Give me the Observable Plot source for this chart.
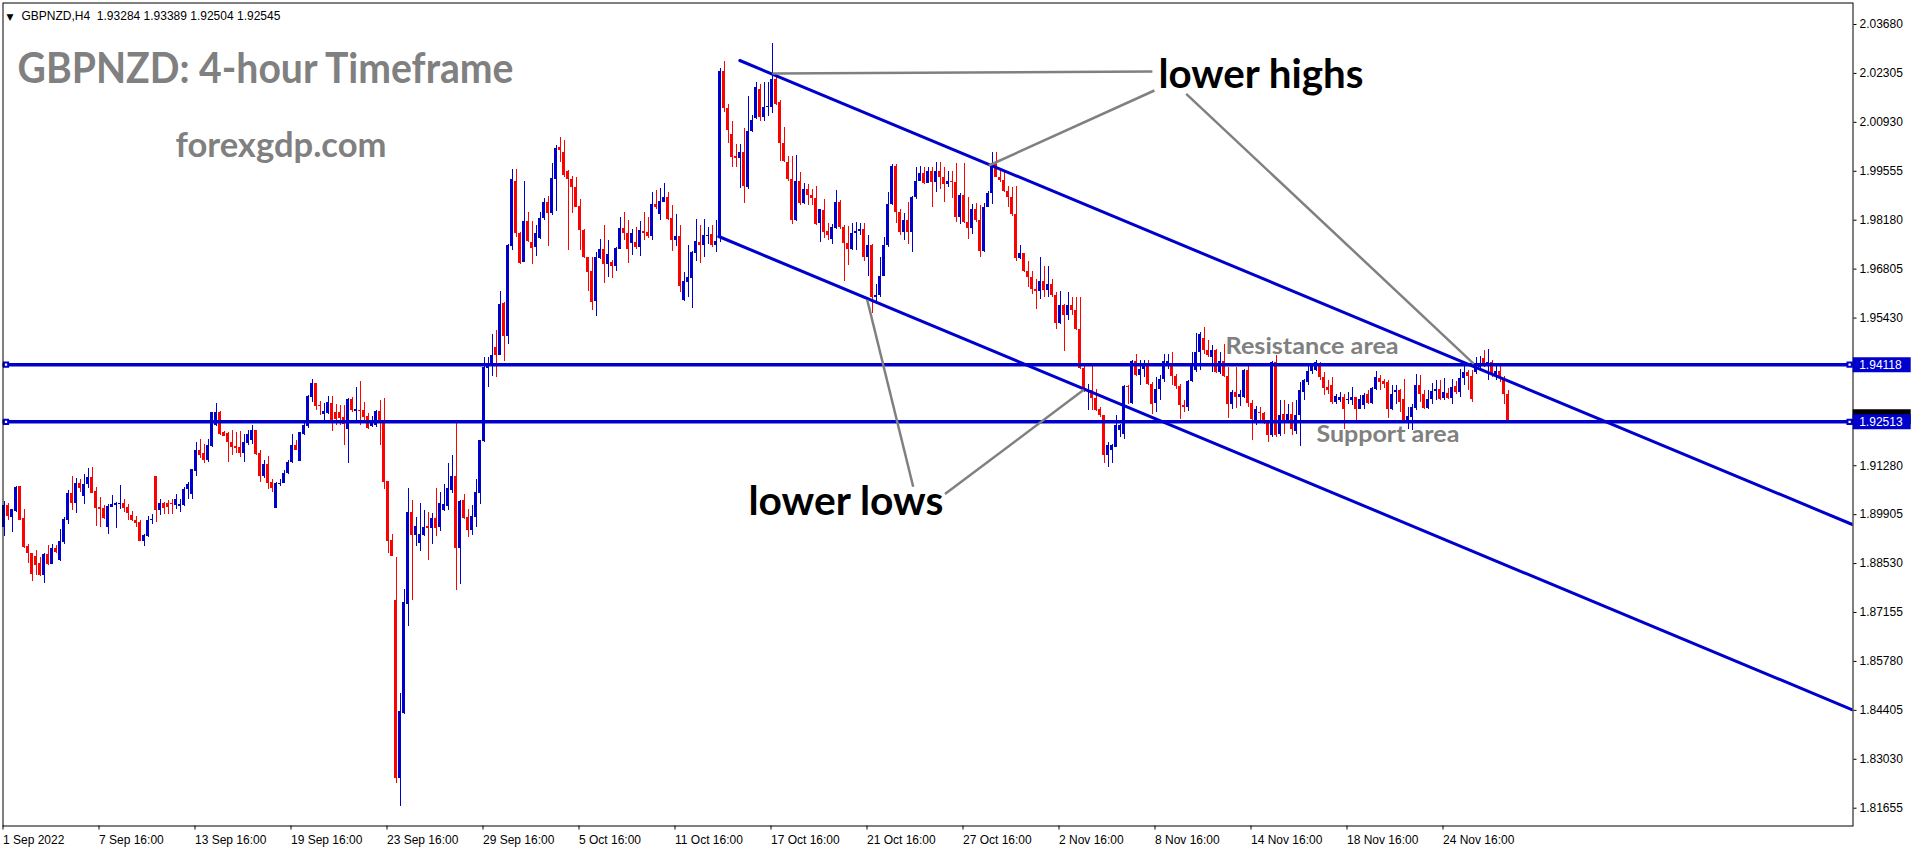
<!DOCTYPE html>
<html><head><meta charset="utf-8">
<script src="https://cdn.jsdelivr.net/npm/d3@7"></script>
<script src="https://cdn.jsdelivr.net/npm/@observablehq/plot@0.6"></script>
<style>
html,body{margin:0;padding:0;background:#fff;}
#chart{width:1916px;height:850px;overflow:hidden;}
svg{display:block;}
</style></head><body><div id="chart"></div>
<script>
// ---------- data: GBPNZD H4, bar 0 = 1 Sep 2022 16:00 ----------
const opens = [
1.8955,1.9016,1.8983,1.8999,1.9069,1.8980,1.8900,1.8880,1.8872,1.8853,
1.8820,1.8879,1.8851,1.8896,1.8861,1.8911,1.8974,1.9049,1.9021,1.9077,
1.9041,1.9076,1.9094,1.9055,1.9010,1.9008,1.8955,1.9011,1.9016,1.9020,
1.9021,1.9010,1.8988,1.8973,1.8969,1.8916,1.8929,1.8973,1.9097,1.9003,
1.9021,1.9023,1.9021,1.9016,1.9014,1.9016,1.9061,1.9047,1.9112,1.9170,
1.9163,1.9142,1.9182,1.9242,1.9277,1.9222,1.9219,1.9194,1.9182,1.9179,
1.9163,1.9191,1.9198,1.9226,1.9163,1.9098,1.9131,1.9081,1.9008,1.9075,
1.9078,1.9105,1.9137,1.9184,1.9140,1.9217,1.9238,1.9320,1.9359,1.9297,
1.9273,1.9276,1.9303,1.9277,1.9277,1.9263,1.9229,1.9315,1.9280,1.9282,
1.9282,1.9266,1.9238,1.9242,1.9280,1.9256,1.9083,1.8917,
1.8749,1.8250,1.8432,1.8738,1.8996,1.8931,1.8910,1.8931,1.8957,1.8952,
1.8979,1.8954,1.9001,1.9013,1.9058,1.9097,1.8896,1.9030,1.8982,1.8945,
1.8982,1.9049,
1.9196,1.9401,1.9408,1.9460,1.9439,1.9584,1.9491,1.9744,1.9926,1.9781,
1.9699,1.9813,1.9755,1.9740,1.9767,1.9822,1.9869,1.9836,1.9931,2.0021,
2.0008,1.9956,1.9933,1.9911,1.9857,1.9790,1.9713,1.9675,1.9589,1.9710,
1.9736,1.9694,1.9700,1.9689,1.9736,1.9794,1.9782,1.9753,1.9755,1.9741,
1.9785,1.9783,1.9772,1.9861,1.9834,1.9869,1.9881,1.9823,1.9761,1.9773,
1.9591,1.9642,1.9654,1.9724,1.9756,1.9747,1.9774,1.9778,1.9748,
1.9767,2.0235,2.0131,2.0059,1.9998,1.9991,2.0009,1.9911,2.0066,2.0104,
2.0185,2.0108,2.0136,2.0136,2.0214,2.0150,2.0034,1.9981,1.9933,1.9818,
1.9928,1.9864,1.9905,1.9888,1.9880,1.9808,1.9844,1.9785,1.9764,1.9795,
1.9869,1.9797,1.9752,1.9736,1.9780,1.9786,1.9791,1.9713,1.9747,1.9600,
1.9607,1.9661,1.9746,1.9862,1.9970,1.9839,1.9783,1.9816,1.9783,1.9881,
1.9928,1.9949,1.9921,1.9956,1.9923,1.9956,1.9939,1.9917,1.9926,1.9924,
1.9825,1.9888,1.9811,1.9795,1.9848,1.9816,1.9730,1.9855,1.9892,1.9975,
1.9939,1.9930,1.9900,1.9881,1.9834,1.9710,1.9724,1.9673,1.9657,1.9624,
1.9619,1.9647,1.9621,1.9636,1.9605,1.9527,1.9577,1.9549,1.9577,1.9563,
1.9512,1.9401,
1.9338,1.9340,1.9318,1.9286,1.9268,1.9156,1.9172,1.9180,1.9226,1.9217,
1.9352,1.9303,1.9420,1.9381,1.9399,1.9413,1.9357,1.9303,1.9343,1.9371,
1.9414,1.9413,1.9378,1.9350,1.9296,1.9293,1.9364,1.9395,1.9446,1.9486,
1.9451,1.9432,1.9451,1.9390,1.9420,1.9378,1.9299,1.9334,1.9320,1.9320,
1.9395,1.9303,1.9254,1.9277,1.9274,1.9247,1.9212,1.9418,1.9215,1.9273,
1.9255,1.9272,1.9224,1.9268,1.9334,1.9362,1.9392,1.9396,1.9409,1.9376,
1.9348,1.9353,1.9306,1.9311,1.9320,1.9310,1.9312,1.9320,1.9287,1.9297,
1.9327,1.9303,1.9343,1.9373,1.9364,1.9362,1.9287,1.9334,1.9339,1.9315,
1.9252,1.9264,1.9289,1.9354,1.9327,1.9290,1.9313,1.9337,1.9343,1.9318,
1.9332,1.9318,1.9350,1.9334,1.9374,1.9390,1.9380,1.9390,1.9404,1.9428,
1.9411,1.9418,1.9381,1.9393,1.9371,1.93284
];
const highs = [
1.9028,1.9022,1.9005,1.9071,1.9071,1.9004,1.8908,1.8882,1.8889,1.8871,
1.8882,1.8903,1.8906,1.8903,1.8950,1.8983,1.9058,1.9097,1.9091,1.9089,
1.9103,1.9120,1.9123,1.9067,1.9039,1.9016,1.9018,1.9044,1.9025,1.9072,
1.9032,1.9020,1.8999,1.8986,1.8975,1.8936,1.8986,1.8992,1.9098,1.9032,
1.9025,1.9030,1.9034,1.9048,1.9034,1.9067,1.9081,1.9118,1.9193,1.9203,
1.9187,1.9203,1.9278,1.9303,1.9279,1.9223,1.9222,1.9226,1.9222,1.9224,
1.9217,1.9226,1.9240,1.9227,1.9170,1.9142,1.9153,1.9088,1.9081,1.9089,
1.9114,1.9144,1.9217,1.9198,1.9222,1.9250,1.9325,1.9371,1.9360,1.9309,
1.9304,1.9322,1.9322,1.9299,1.9298,1.9296,1.9318,1.9320,1.9348,1.9366,
1.9305,1.9276,1.9266,1.9282,1.9310,1.9318,1.9084,1.8936,
1.8871,1.8489,1.8780,1.9065,1.9030,1.8983,1.9022,1.9001,1.8997,1.8994,
1.9065,1.9052,1.9075,1.9134,1.9156,1.9247,1.9030,1.9048,1.9004,1.9016,
1.9089,1.9198,
1.9432,1.9432,1.9497,1.9509,1.9619,1.9588,1.9750,1.9961,1.9961,1.9783,
1.9926,1.9839,1.9813,1.9804,1.9839,1.9878,1.9886,1.9978,2.0028,2.0050,
2.0042,1.9959,1.9942,1.9939,1.9875,1.9792,1.9714,1.9713,1.9727,1.9764,
1.9802,1.9761,1.9705,1.9741,1.9825,1.9841,1.9816,1.9792,1.9797,1.9813,
1.9841,1.9825,1.9897,1.9902,1.9907,1.9921,1.9895,1.9858,1.9834,1.9802,
1.9671,1.9748,1.9731,1.9820,1.9804,1.9820,1.9797,1.9802,1.9816,
2.0243,2.0265,2.0143,2.0096,2.0031,2.0031,2.0075,2.0167,2.0113,2.0206,
2.0199,2.0204,2.0204,2.0315,2.0218,2.0153,2.0078,1.9998,1.9998,2.0000,
1.9951,1.9921,1.9917,1.9905,1.9914,1.9847,1.9877,1.9808,1.9806,1.9902,
1.9874,1.9802,1.9799,1.9808,1.9811,1.9808,1.9808,1.9776,1.9750,1.9636,
1.9713,1.9769,1.9895,1.9975,1.9975,1.9848,1.9836,1.9867,1.9886,1.9966,
1.9970,1.9966,1.9967,1.9967,1.9980,1.9981,1.9966,1.9956,1.9956,1.9977,
1.9892,1.9977,1.9881,1.9862,1.9864,1.9858,1.9864,1.9900,2.0008,2.0008,
1.9963,1.9956,1.9914,1.9911,1.9914,1.9746,1.9724,1.9703,1.9675,1.9652,
1.9713,1.9689,1.9689,1.9652,1.9614,1.9619,1.9582,1.9614,1.9602,1.9602,
1.9600,1.9413,
1.9357,1.9409,1.9343,1.9292,1.9270,1.9194,1.9189,1.9268,1.9245,1.9353,
1.9353,1.9423,1.9441,1.9423,1.9423,1.9423,1.9362,1.9376,1.9381,1.9441,
1.9441,1.9446,1.9385,1.9357,1.9310,1.9367,1.9446,1.9499,1.9502,1.9516,
1.9479,1.9465,1.9456,1.9446,1.9470,1.9404,1.9339,1.9404,1.9339,1.9399,
1.9409,1.9310,1.9294,1.9292,1.9278,1.9250,1.9420,1.9437,1.9310,1.9310,
1.9301,1.9306,1.9310,1.9362,1.9371,1.9409,1.9413,1.9423,1.9418,1.9390,
1.9367,1.9376,1.9329,1.9334,1.9329,1.9334,1.9348,1.9320,1.9324,1.9331,
1.9340,1.9348,1.9393,1.9381,1.9371,1.9367,1.9353,1.9353,1.9343,1.9369,
1.9292,1.9301,1.9383,1.9381,1.9338,1.9340,1.9359,1.9367,1.9367,1.9374,
1.9346,1.9369,1.9365,1.9399,1.9413,1.9395,1.9395,1.9432,1.9434,1.9451,
1.9456,1.9423,1.9413,1.9409,1.9378,1.93389
];
const lows = [
1.8930,1.8974,1.8941,1.8997,1.8974,1.8896,1.8852,1.8802,1.8819,1.8816,
1.8798,1.8847,1.8850,1.8880,1.8860,1.8908,1.8962,1.9002,1.8993,1.9053,
1.9020,1.9064,1.9050,1.8957,1.8955,1.8978,1.8934,1.9010,1.8952,1.9006,
1.8997,1.8974,1.8971,1.8955,1.8915,1.8901,1.8927,1.8964,1.8969,1.8989,
1.8990,1.8990,1.8992,1.9006,1.8997,1.9014,1.9034,1.9032,1.9097,1.9147,
1.9135,1.9137,1.9179,1.9238,1.9214,1.9209,1.9137,1.9156,1.9161,1.9151,
1.9137,1.9184,1.9189,1.9156,1.9081,1.9091,1.9062,1.9053,1.9007,1.9069,
1.9078,1.9102,1.9133,1.9170,1.9140,1.9212,1.9233,1.9306,1.9284,1.9270,
1.9254,1.9273,1.9223,1.9241,1.9240,1.9184,1.9135,1.9278,1.9254,1.9240,
1.9250,1.9231,1.9236,1.9236,1.9184,1.9062,1.8882,1.8872,
1.8236,1.8169,1.8428,1.8676,1.8749,1.8900,1.8887,1.8928,1.8861,1.8906,
1.8928,1.8942,1.9000,1.9001,1.9050,1.8777,1.8794,1.8978,1.8926,1.8931,
1.8955,1.9018,
1.9193,1.9348,1.9378,1.9376,1.9437,1.9421,1.9469,1.9734,1.9769,1.9694,
1.9698,1.9755,1.9694,1.9717,1.9764,1.9816,1.9744,1.9830,1.9842,1.9979,
1.9939,1.9734,1.9836,1.9853,1.9733,1.9711,1.9617,1.9563,1.9547,1.9708,
1.9640,1.9657,1.9655,1.9673,1.9736,1.9760,1.9696,1.9720,1.9736,1.9716,
1.9760,1.9767,1.9762,1.9848,1.9818,1.9867,1.9816,1.9731,1.9743,1.9614,
1.9590,1.9602,1.9569,1.9703,1.9696,1.9713,1.9750,1.9741,1.9727,
1.9755,2.0120,2.0034,1.9967,1.9967,1.9907,1.9864,1.9905,2.0064,2.0101,
2.0095,2.0095,2.0109,2.0117,2.0139,1.9982,1.9979,1.9928,1.9806,1.9814,
1.9860,1.9862,1.9858,1.9860,1.9804,1.9755,1.9767,1.9760,1.9750,1.9792,
1.9792,1.9645,1.9691,1.9733,1.9734,1.9776,1.9703,1.9661,1.9555,1.9580,
1.9600,1.9660,1.9741,1.9858,1.9808,1.9776,1.9761,1.9750,1.9727,1.9876,
1.9926,1.9917,1.9921,1.9853,1.9895,1.9905,1.9867,1.9910,1.9880,1.9811,
1.9806,1.9808,1.9764,1.9778,1.9811,1.9713,1.9727,1.9853,1.9861,1.9937,
1.9923,1.9895,1.9855,1.9827,1.9703,1.9708,1.9670,1.9628,1.9610,1.9568,
1.9596,1.9600,1.9600,1.9602,1.9512,1.9526,1.9449,1.9535,1.9549,1.9509,
1.9399,1.9334,
1.9282,1.9282,1.9280,1.9264,1.9133,1.9123,1.9133,1.9179,1.9207,1.9203,
1.9301,1.9301,1.9378,1.9353,1.9376,1.9353,1.9273,1.9278,1.9310,1.9362,
1.9399,1.9353,1.9343,1.9259,1.9278,1.9281,1.9362,1.9390,1.9395,1.9441,
1.9432,1.9390,1.9387,1.9385,1.9376,1.9262,1.9287,1.9290,1.9294,1.9318,
1.9292,1.9200,1.9240,1.9254,1.9243,1.9193,1.9207,1.9206,1.9210,1.9217,
1.9247,1.9212,1.9217,1.9181,1.9310,1.9353,1.9385,1.9394,1.9367,1.9324,
1.9329,1.9301,1.9301,1.9306,1.9231,1.9301,1.9297,1.9256,1.9287,1.9287,
1.9301,1.9299,1.9340,1.9339,1.9346,1.9262,1.9282,1.9301,1.9278,1.9247,
1.9231,1.9226,1.9282,1.9306,1.9287,1.9287,1.9301,1.9310,1.9310,1.9310,
1.9315,1.9299,1.9329,1.9320,1.9353,1.9338,1.9306,1.9385,1.9393,1.9404,
1.9367,1.9376,1.9367,1.9362,1.9301,1.92504
];
const closes = [
1.9016,1.8985,1.9004,1.9067,1.8975,1.8899,1.8880,1.8822,1.8847,1.8819,
1.8879,1.8849,1.8895,1.8884,1.8914,1.8977,1.9049,1.9021,1.9077,1.9065,
1.9076,1.9094,1.9051,1.9007,1.9005,1.8980,1.9013,1.9018,1.9021,1.9021,
1.9008,1.8994,1.8973,1.8966,1.8916,1.8931,1.8974,1.8976,1.9002,1.9021,
1.9007,1.9011,1.9018,1.9032,1.9018,1.9061,1.9075,1.9117,1.9170,1.9156,
1.9144,1.9184,1.9277,1.9277,1.9217,1.9211,1.9192,1.9179,1.9176,1.9163,
1.9193,1.9216,1.9226,1.9160,1.9098,1.9131,1.9078,1.9065,1.9077,1.9079,
1.9106,1.9138,1.9184,1.9172,1.9220,1.9242,1.9323,1.9359,1.9295,1.9295,
1.9279,1.9305,1.9254,1.9259,1.9262,1.9245,1.9313,1.9282,1.9285,1.9280,
1.9264,1.9233,1.9254,1.9280,1.9250,1.9081,1.8915,1.8872,
1.8250,1.8437,1.8744,1.8996,1.8931,1.8957,1.8934,1.8954,1.8952,1.8979,
1.8952,1.9021,1.9018,1.9063,1.9097,1.8896,1.9027,1.8980,1.8945,1.8985,
1.9052,1.9198,
1.9404,1.9408,1.9439,1.9439,1.9580,1.9491,1.9747,1.9931,1.9780,1.9696,
1.9813,1.9757,1.9739,1.9780,1.9824,1.9869,1.9836,1.9934,2.0019,2.0015,
1.9945,1.9932,1.9909,1.9855,1.9788,1.9713,1.9671,1.9586,1.9713,1.9736,
1.9694,1.9722,1.9688,1.9739,1.9794,1.9780,1.9736,1.9780,1.9740,1.9788,
1.9780,1.9772,1.9861,1.9853,1.9870,1.9881,1.9820,1.9761,1.9773,1.9631,
1.9647,1.9657,1.9727,1.9759,1.9747,1.9776,1.9775,1.9748,1.9757,
2.0235,2.0132,2.0071,1.9995,1.9991,2.0009,1.9912,2.0068,2.0099,2.0190,
2.0108,2.0136,2.0138,2.0214,2.0143,2.0034,1.9982,1.9931,1.9818,1.9926,
1.9864,1.9905,1.9888,1.9880,1.9806,1.9847,1.9783,1.9774,1.9797,1.9869,
1.9797,1.9752,1.9736,1.9780,1.9786,1.9791,1.9713,1.9747,1.9600,1.9607,
1.9661,1.9746,1.9862,1.9970,1.9839,1.9783,1.9816,1.9783,1.9881,1.9928,
1.9949,1.9921,1.9956,1.9923,1.9956,1.9939,1.9917,1.9926,1.9924,1.9825,
1.9888,1.9811,1.9795,1.9848,1.9816,1.9730,1.9855,1.9892,1.9975,1.9939,
1.9930,1.9900,1.9881,1.9834,1.9710,1.9724,1.9673,1.9657,1.9624,1.9619,
1.9647,1.9621,1.9636,1.9605,1.9527,1.9577,1.9549,1.9577,1.9563,1.9512,
1.9401,1.9340,
1.9340,1.9318,1.9282,1.9268,1.9156,1.9184,1.9184,1.9240,1.9240,1.9350,
1.9348,1.9420,1.9381,1.9399,1.9413,1.9357,1.9301,1.9343,1.9371,1.9420,
1.9420,1.9378,1.9350,1.9296,1.9293,1.9364,1.9409,1.9446,1.9497,1.9451,
1.9437,1.9451,1.9390,1.9420,1.9378,1.9299,1.9334,1.9320,1.9329,1.9395,
1.9303,1.9259,1.9287,1.9274,1.9247,1.9212,1.9418,1.9212,1.9270,1.9256,
1.9272,1.9230,1.9270,1.9338,1.9368,1.9393,1.9409,1.9418,1.9376,1.9346,
1.9340,1.9306,1.9322,1.9320,1.9287,1.9314,1.9320,1.9287,1.9315,1.9326,
1.9303,1.9346,1.9376,1.9362,1.9357,1.9287,1.9329,1.9339,1.9306,1.9254,
1.9265,1.9292,1.9354,1.9327,1.9290,1.9315,1.9337,1.9343,1.9315,1.9334,
1.9318,1.9348,1.9334,1.9374,1.9390,1.9380,1.9315,1.9406,1.9415,1.9413,
1.9418,1.9387,1.9393,1.9378,1.9329,1.92545
];
const xTickBars = [0,24,48,72,96,120,144,168,192,216,240,264,288,312,336,360];
const xTickLabels = ["1 Sep 2022","7 Sep 16:00","13 Sep 16:00","19 Sep 16:00","23 Sep 16:00","29 Sep 16:00","5 Oct 16:00","11 Oct 16:00","17 Oct 16:00","21 Oct 16:00","27 Oct 16:00","2 Nov 16:00","8 Nov 16:00","14 Nov 16:00","18 Nov 16:00","24 Nov 16:00"];
const yTickLabels = ["2.03680","2.02305","2.00930","1.99555","1.98180","1.96805","1.95430","1.91280","1.89905","1.88530","1.87155","1.85780","1.84405","1.83030","1.81655"];
const levels = [1.94118, 1.92513];
const bidPrice = 1.92545;
const headerText = "GBPNZD,H4  1.93284 1.93389 1.92504 1.92545";
const titleText = "GBPNZD: 4-hour Timeframe";
const siteText = "forexgdp.com";
// channel lines (bar index, price)
const upperChannel = [{x: 183.95, y: 2.02668}, {x: 462.1, y: 1.89628}];
const lowerChannel = [{x: 178.7, y: 1.97722}, {x: 462.1, y: 1.84421}];
// grey pointer lines (bar index, price)
const pointerLines = [
  {x1: 192.1, y1: 2.02303, x2: 287.1, y2: 2.02359},
  {x1: 246.2, y1: 1.99717, x2: 287.6, y2: 2.01825},
  {x1: 295.55, y1: 2.01732, x2: 367.45, y2: 1.94144},
  {x1: 215.8, y1: 1.95943, x2: 227.3, y2: 1.90688},
  {x1: 269.95, y1: 1.93414, x2: 235.25, y2: 1.90483}
];
const noteTexts = ["lower highs", "lower lows"];
const noteBars = [288.6, 186.1];
const notePrices = [2.01909, 1.89909];
const areaTexts = ["Resistance area", "Support area"];
const areaBars = [305.4, 328.1];
const areaPrices = [1.94406, 1.91933];

// ---------- build ----------
const BLUE = "#0000cd", RED = "#ff0000", GRAY = "#808080";
const minHalf = 0.00015;
const candles = opens.map((o, i) => {
  const c = closes[i];
  const h = Math.max(highs[i], o, c), l = Math.min(lows[i], o, c);
  let b1 = Math.min(o, c), b2 = Math.max(o, c);
  if (b2 - b1 < 2 * minHalf) { const m = (b1 + b2) / 2; b1 = m - minHalf; b2 = m + minHalf; }
  return {i, o, h, l, c, b1, b2, up: c >= o};
});
const up = candles.filter(d => d.up), down = candles.filter(d => !d.up);
const labelMap = new Map(xTickBars.map((b, k) => [b, xTickLabels[k]]));
const yTicks = yTickLabels.map(Number);
const handles = levels.flatMap(v => [{x: 0.5, y: v}, {x: 461.4, y: v}]);
const notes = noteTexts.map((t, k) => ({t, x: noteBars[k], y: notePrices[k]}));
const areas = areaTexts.map((t, k) => ({t, x: areaBars[k], y: areaPrices[k]}));

const plot = Plot.plot({
  width: 1916, height: 850,
  marginLeft: 2.5, marginRight: 63.5, marginTop: 2.5, marginBottom: 24.5,
  x: {domain: [-0.25, 462.25], axis: null},
  y: {domain: [1.81155, 2.04284], axis: null},
  style: {background: "white", overflow: "visible"},
  marks: [
    // texts in background
    Plot.text([titleText], {frameAnchor: "top-left", dx: 14.5, dy: 79.8, text: d => d, lineAnchor: "bottom", textAnchor: "start", fontSize: 42, fontWeight: "bold", fontFamily: "Lato", fill: GRAY}),
    Plot.text([siteText], {frameAnchor: "top-left", dx: 172.5, dy: 154.4, text: d => d, lineAnchor: "bottom", textAnchor: "start", fontSize: 34, fontWeight: "bold", fontFamily: "Lato", fill: GRAY}),
    Plot.text(["\u25BC"], {frameAnchor: "top-left", dx: 3.5, dy: 16.5, text: d => d, lineAnchor: "bottom", textAnchor: "start", fontSize: 9, fontFamily: "DejaVu Sans", fill: "black"}),
    Plot.text([headerText], {frameAnchor: "top-left", dx: 18.5, dy: 16.5, text: d => d, lineAnchor: "bottom", textAnchor: "start", fontSize: 12, fontFamily: "Liberation Sans", fill: "black"}),
    // candles
    Plot.ruleX(up, {x: "i", y1: "l", y2: "h", stroke: BLUE, strokeWidth: 1, shapeRendering: "crispEdges"}),
    Plot.ruleX(down, {x: "i", y1: "l", y2: "h", stroke: RED, strokeWidth: 1, shapeRendering: "crispEdges"}),
    Plot.rect(up, {x1: d => d.i - 0.375, x2: d => d.i + 0.375, y1: "b1", y2: "b2", fill: BLUE, shapeRendering: "crispEdges"}),
    Plot.rect(down, {x1: d => d.i - 0.375, x2: d => d.i + 0.375, y1: "b1", y2: "b2", fill: RED, shapeRendering: "crispEdges"}),
    // bid line, levels
    Plot.ruleY([bidPrice], {stroke: "#a8a8a8", strokeWidth: 1}),
    Plot.ruleY(levels, {stroke: BLUE, strokeWidth: 3.5}),
    // channel
    Plot.line(upperChannel, {x: "x", y: "y", stroke: BLUE, strokeWidth: 3, clip: true}),
    Plot.line(lowerChannel, {x: "x", y: "y", stroke: BLUE, strokeWidth: 3, clip: true}),
    // grey pointers
    Plot.link(pointerLines, {x1: "x1", y1: "y1", x2: "x2", y2: "y2", stroke: GRAY, strokeWidth: 2.5}),
    // annotation text
    Plot.text(notes, {x: "x", y: "y", text: "t", lineAnchor: "bottom", textAnchor: "start", fontSize: 40, fontWeight: "bold", fontFamily: "Lato", fill: "black"}),
    Plot.text(areas, {x: "x", y: "y", text: "t", lineAnchor: "bottom", textAnchor: "start", fontSize: 23, fontWeight: "bold", fontFamily: "Lato", fill: GRAY}),
    // handles
    Plot.dot(handles, {x: "x", y: "y", symbol: "square", r: 2.4, stroke: BLUE, strokeWidth: 2, fill: "white"}),
    // frame + axes
    Plot.frame({stroke: "black", strokeWidth: 1}),
    Plot.axisX(xTickBars, {anchor: "bottom", tickSize: 4, tickPadding: 5, tickFormat: d => labelMap.get(d), textAnchor: "start", dx: -1, fontSize: 12, fontFamily: "Liberation Sans", fill: "black", stroke: "black", label: null}),
    Plot.axisY(yTicks, {anchor: "right", tickSize: 3, tickPadding: 3.5, tickFormat: d => d.toFixed(5), fontSize: 12, fontFamily: "Liberation Sans", fill: "black", stroke: "black", label: null}),
    // price labels on the axis
    Plot.ruleY([bidPrice], {x1: 462.3, x2: 476.8, stroke: "black", strokeWidth: 15, dy: -4}),
    Plot.ruleY(levels, {x1: 462.3, x2: 476.8, stroke: BLUE, strokeWidth: 15}),
    Plot.text(levels, {x: 462.3, y: d => d, text: d => d.toFixed(5), textAnchor: "start", dx: 6, fontSize: 12, fontFamily: "Liberation Sans", fill: "white"})
  ]
});

// fit the big annotation texts to the widths seen in the chart
const fitWidths = {"GBPNZD: 4-hour Timeframe": 496, "forexgdp.com": 211, "lower highs": 205, "lower lows": 195, "Resistance area": 173, "Support area": 143};
d3.select(plot).selectAll("text").each(function () {
  const w = fitWidths[this.textContent];
  if (w) { this.setAttribute("textLength", w); this.setAttribute("lengthAdjust", "spacingAndGlyphs"); }
});
document.getElementById("chart").appendChild(plot);
</script>
</body></html>
